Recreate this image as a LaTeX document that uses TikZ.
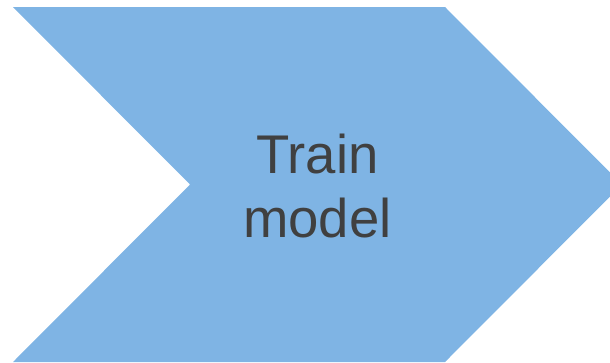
\documentclass[tikz,border=0pt]{standalone}
\usepackage{fontspec}
\setmainfont{Liberation Sans}
\definecolor{chevronblue}{RGB}{127,180,228}
\definecolor{labelgrey}{RGB}{64,64,64}
\begin{document}
\begin{tikzpicture}[x=1pt,y=-1pt,
  chevron/.style={fill=chevronblue,draw=none},
  steplabel/.style={text=labelgrey,align=center,inner sep=0pt,
    font=\fontsize{54.5}{64}\selectfont}]
  \useasboundingbox (0,0) rectangle (610,362);
  \begin{scope}
    \clip (0,0) rectangle (610,362);
    \fill[chevron] (13,7) -- (445,7) -- (622,184.5) -- (445,362)
      -- (13,362) -- (190,184.5) -- cycle;
  \end{scope}
  \node[steplabel] (label) at (317.5,186) {Train\\model};
\end{tikzpicture}
\end{document}
